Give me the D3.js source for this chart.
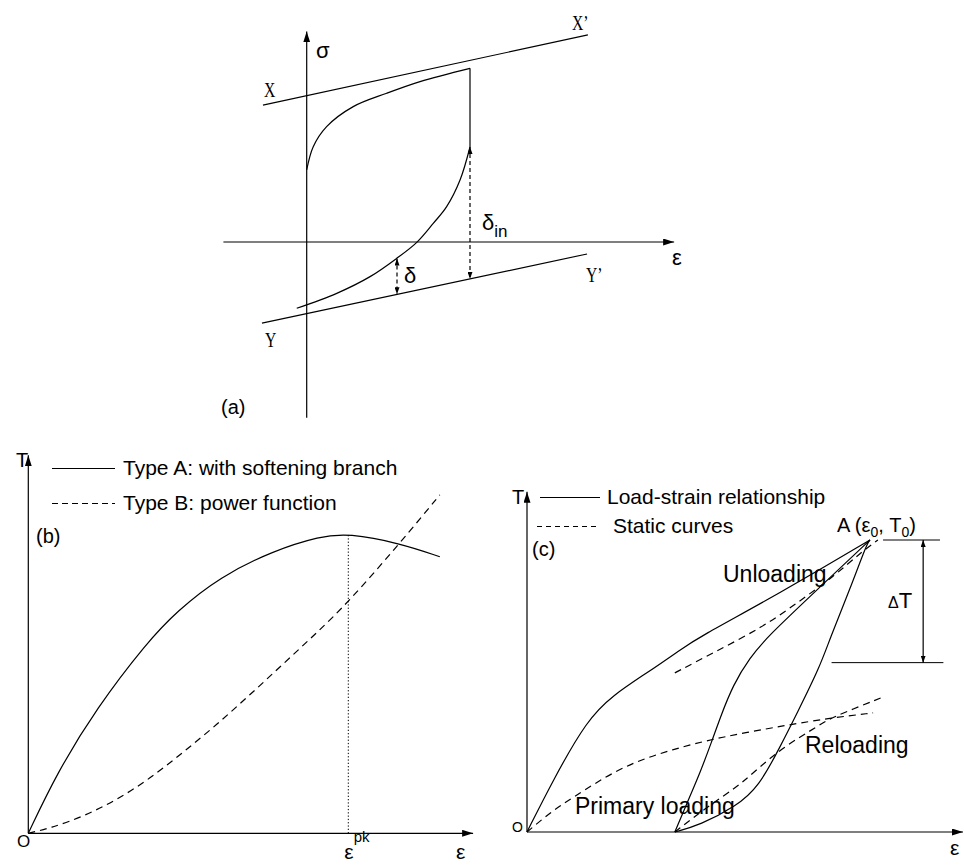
<!DOCTYPE html>
<html>
<head>
<meta charset="utf-8">
<script src="https://cdn.jsdelivr.net/npm/d3@7"></script>
<style>
    body { margin: 0; background: #fff; }
    svg { display: block; }
    text { font-family: "Liberation Sans", Arial, sans-serif; fill: #000; }
    .serif { font-family: "Liberation Serif", "Times New Roman", serif; }
    .ln { fill: none; stroke: #000; stroke-width: 1.2; }
    .dash { stroke-dasharray: 7,5; }
    .dashS { stroke-dasharray: 4,3; }
    .dot { stroke-dasharray: 1.3,2; stroke-width: 1; }
</style>
</head>
<body>
<svg id="chart" width="964" height="865"></svg>
<script>
// ---- panel (a): sigma vs epsilon, arbitrary units ----
const aAxisEps = [-5.1, 22.5];
const aAxisSig = [-10.1, 12.1];
const aLineXX = [[-2.68, 7.87], [17.22, 11.9]];
const aLineYY = [[-2.74, -4.66], [17.17, -0.69]];
const aUpper = [[0, 4.14], [0.40, 5.48], [1.22, 6.63], [2.85, 7.78], [4.90, 8.55], [6.94, 9.22], [10, 9.98]];
const aDrop = [[10, 9.98], [10, 5.46]];
const aLower = [[10, 5.46], [9.39, 3.56], [8.57, 2.03], [7.75, 1.07], [6.74, -0.02], [5.51, -0.94], [3.88, -1.99], [1.84, -2.95], [-0.61, -3.81]];
const aDeltaIn = [[10, 5.46], [10, -2.12]];
const aDelta = [[5.53, -0.95], [5.53, -3.0]];

// ---- panel (b): T vs epsilon, eps_pk = 10, peak T = 10 ----
const bAxisEps = 13.9;
const bAxisT = 12.6;
const bTypeA = [[0, 0], [0.89, 2.0], [2.14, 4.18], [3.70, 6.35], [4.64, 7.40], [5.99, 8.55], [7.66, 9.42], [9.12, 9.90], [10, 10], [11.61, 9.67], [12.86, 9.22]];
const bTypeB = [[0, 0], [0.68, 0.17], [1.72, 0.56], [2.76, 1.11], [3.80, 1.82], [4.84, 2.70], [5.89, 3.62], [6.93, 4.62], [7.97, 5.65], [9.01, 6.68], [10, 7.70], [11.61, 9.67], [12.86, 11.28]];
const bEpsPk = 10;
const bLegend = ["Type A: with softening branch", "Type B: power function"];

// ---- panel (c): load-strain loop, eps0 = 10, T0 = 10 ----
const cAxisEps = 12.71;
const cAxisT = 11.65;
const cPrimary = [[0, 0], [0.76, 1.78], [1.75, 3.84], [2.51, 4.69], [3.50, 5.45], [4.46, 6.23], [4.96, 6.64], [7.38, 8.18], [10, 10]];
const cUnloading = [[10, 10], [8.48, 8.32], [7.00, 6.68], [6.50, 5.97], [6.01, 5.05], [5.63, 3.91], [5.39, 3.11], [5.04, 2.01], [4.66, 0.98], [4.31, 0]];
const cReloading = [[4.31, 0], [5.04, 0.24], [6.09, 0.87], [6.76, 1.55], [7.38, 2.92], [7.87, 4.06], [8.54, 5.66], [8.83, 6.62], [9.42, 8.33], [9.91, 9.88], [10, 10]];
const cStaticPrimary = [[0, 0], [0.76, 0.75], [1.25, 1.10], [2.71, 2.23], [4.17, 2.81], [5.63, 3.25], [7.58, 3.66], [8.83, 3.90], [10.09, 4.08]];
const cStaticReload = [[4.31, 0], [5.25, 0.86], [6.12, 1.54], [6.59, 2.02], [7.46, 2.91], [8.54, 3.66], [8.83, 3.90], [10.38, 4.62]];
const cStaticUnload = [[4.31, 5.45], [5.42, 6.13], [6.88, 7.02], [7.87, 7.84], [8.92, 8.73], [9.71, 9.55], [10.23, 10.0]];
const cT0Line = [[10.38, 10], [12.04, 10]];
const cLowLine = [[8.88, 5.80], [12.14, 5.80]];
const cDeltaT = [[11.55, 10], [11.55, 5.80]];
const cLegend = ["Load-strain relationship", "Static curves"];

let svg = d3.select("#chart");
let defs = svg.append("defs");

function addMarker(id, len, half) {
    defs.append("marker")
        .attr("id", id)
        .attr("viewBox", "0 0 " + len + " " + (half * 2))
        .attr("refX", len).attr("refY", half)
        .attr("markerWidth", len).attr("markerHeight", half * 2)
        .attr("markerUnits", "userSpaceOnUse")
        .attr("orient", "auto-start-reverse")
        .append("path")
        .attr("d", "M0,0L" + len + "," + half + "L0," + (half * 2) + "Z")
        .attr("fill", "#000");
}
addMarker("arrowBig", 11, 3.5);
addMarker("arrowSmall", 7, 2.5);

function path(g, data, x, y, cls, curve) {
    let gen = d3.line()
        .x(function (d) { return x(d[0]); })
        .y(function (d) { return y(d[1]); })
        .curve(curve || d3.curveLinear);
    return g.append("path").attr("class", cls).attr("d", gen(data));
}

function label(g, x, y, str, size, cls) {
    return g.append("text").attr("x", x).attr("y", y)
        .attr("font-size", size).attr("class", cls || null).text(str);
}

function drawPanelA() {
    let g = svg.append("g");
    let x = d3.scaleLinear().domain([0, 10]).range([306.7, 470]);
    let y = d3.scaleLinear().domain([0, 10]).range([242, 68]);

    path(g, [[aAxisEps[0], 0], [aAxisEps[1], 0]], x, y, "ln").attr("marker-end", "url(#arrowBig)");
    path(g, [[0, aAxisSig[0]], [0, aAxisSig[1]]], x, y, "ln").attr("marker-end", "url(#arrowBig)");

    path(g, aLineXX, x, y, "ln");
    path(g, aLineYY, x, y, "ln");
    path(g, aUpper, x, y, "ln", d3.curveCatmullRom.alpha(0.5));
    path(g, aDrop, x, y, "ln");
    path(g, aLower, x, y, "ln", d3.curveCatmullRom.alpha(0.5));
    path(g, aDeltaIn, x, y, "ln dashS")
        .attr("marker-start", "url(#arrowSmall)").attr("marker-end", "url(#arrowSmall)");
    path(g, aDelta, x, y, "ln dashS")
        .attr("marker-start", "url(#arrowSmall)").attr("marker-end", "url(#arrowSmall)");

    label(g, 316, 58, "σ", 22);
    label(g, 672, 265, "ε", 22);
    label(g, 482, 230, "δ", 22).append("tspan").attr("font-size", 17).attr("dy", 7).text("in");
    label(g, 404, 283, "δ", 22);
    label(g, 221, 414, "(a)", 20);

    // X, X', Y, Y' in a narrow serif
    [["X", 264, 97], ["X’", 572, 30], ["Y", 265, 347], ["Y’", 586, 282]].forEach(function (d) {
        g.append("text").attr("class", "serif")
            .attr("transform", "translate(" + d[1] + "," + d[2] + ") scale(0.75,1)")
            .attr("font-size", 21).text(d[0]);
    });
}

function drawPanelB() {
    let g = svg.append("g");
    let x = d3.scaleLinear().domain([0, 10]).range([28.3, 348.3]);
    let y = d3.scaleLinear().domain([0, 10]).range([833.3, 533.3]);

    path(g, [[0, 0], [bAxisEps, 0]], x, y, "ln").attr("marker-end", "url(#arrowBig)");
    path(g, [[0, 0], [0, bAxisT]], x, y, "ln").attr("marker-end", "url(#arrowBig)");

    path(g, [[bEpsPk, 0], [bEpsPk, 10]], x, y, "ln dot");
    path(g, bTypeA, x, y, "ln", d3.curveBasis);
    path(g, bTypeB, x, y, "ln dash", d3.curveBasis);

    // legend
    g.append("line").attr("class", "ln").attr("x1", 52).attr("x2", 115).attr("y1", 468.5).attr("y2", 468.5);
    g.append("line").attr("class", "ln").attr("x1", 52).attr("x2", 115).attr("y1", 503.5).attr("y2", 503.5)
        .style("stroke-dasharray", "6,4");
    label(g, 123, 475, bLegend[0], 21);
    label(g, 123, 510, bLegend[1], 21);

    label(g, 16, 467, "T", 20);
    label(g, 17, 847, "O", 17);
    label(g, 36, 543, "(b)", 20);
    label(g, x(bEpsPk) - 4, 859, "ε", 21)
        .append("tspan").attr("font-size", 15).attr("dy", -17).text("pk");
    label(g, 456, 859, "ε", 21);
}

function drawPanelC() {
    let g = svg.append("g");
    let x = d3.scaleLinear().domain([0, 10]).range([527, 870]);
    let y = d3.scaleLinear().domain([0, 10]).range([832, 540]);

    path(g, [[0, 0], [cAxisEps, 0]], x, y, "ln").attr("marker-end", "url(#arrowBig)");
    path(g, [[0, 0], [0, cAxisT]], x, y, "ln").attr("marker-end", "url(#arrowBig)");

    let smooth = d3.curveBasis;
    path(g, cPrimary, x, y, "ln", smooth);
    path(g, cUnloading, x, y, "ln", smooth);
    path(g, cReloading, x, y, "ln", smooth);
    path(g, cStaticPrimary, x, y, "ln dash", smooth);
    path(g, cStaticReload, x, y, "ln dash", smooth);
    path(g, cStaticUnload, x, y, "ln dash", smooth);

    path(g, cT0Line, x, y, "ln").style("stroke-width", 1);
    path(g, cLowLine, x, y, "ln").style("stroke-width", 1);
    path(g, cDeltaT, x, y, "ln")
        .attr("marker-start", "url(#arrowSmall)").attr("marker-end", "url(#arrowSmall)");

    // legend
    g.append("line").attr("class", "ln").attr("x1", 540).attr("x2", 600).attr("y1", 497.5).attr("y2", 497.5);
    g.append("line").attr("class", "ln").attr("x1", 537).attr("x2", 600).attr("y1", 526.5).attr("y2", 526.5)
        .style("stroke-dasharray", "5,4");
    label(g, 607, 504, cLegend[0], 21);
    label(g, 613, 533, cLegend[1], 21);

    label(g, 512, 504, "T", 20);
    label(g, 512, 832, "O", 14);
    label(g, 532, 556, "(c)", 20);
    label(g, 950, 855, "ε", 21);

    let a = label(g, 837, 532, "A (ε", 20);
    a.append("tspan").attr("font-size", 14).attr("dy", 5).text("0");
    a.append("tspan").attr("dy", -5).text(", T");
    a.append("tspan").attr("font-size", 14).attr("dy", 5).text("0");
    a.append("tspan").attr("dy", -5).text(")");

    label(g, 723, 582, "Unloading", 23);
    label(g, 805, 753, "Reloading", 23);
    label(g, 575, 814, "Primary loading", 23);
    let dt = label(g, 888, 608, "Δ", 16);
    dt.append("tspan").attr("font-size", 22).text("T");
}

drawPanelA();
drawPanelB();
drawPanelC();
</script>
</body>
</html>
